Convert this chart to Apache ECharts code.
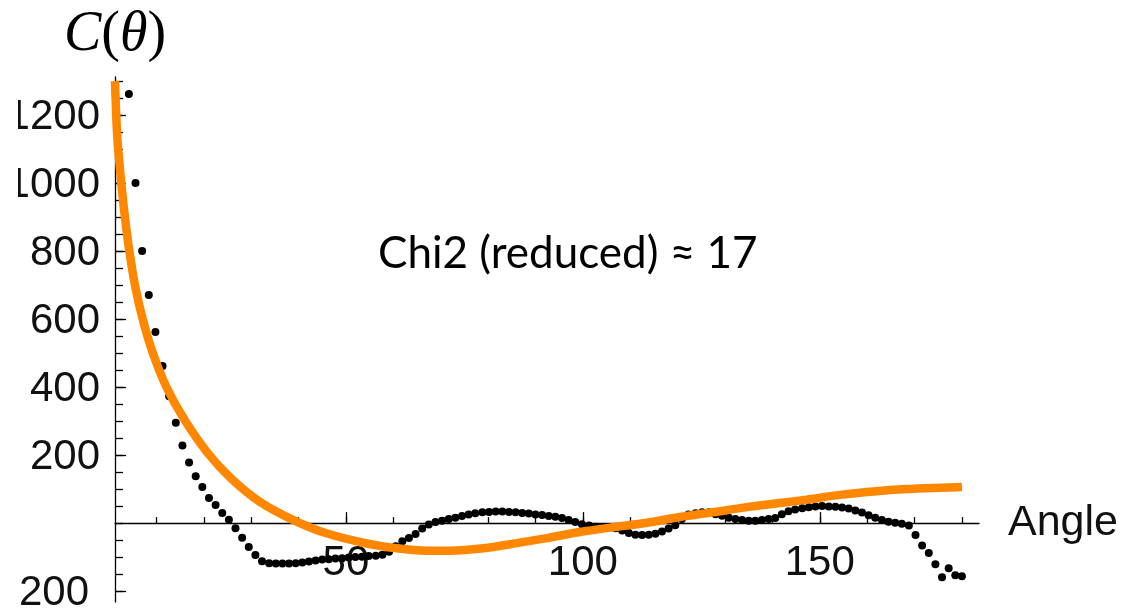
<!DOCTYPE html>
<html>
<head>
<meta charset="utf-8">
<script src="https://cdn.jsdelivr.net/npm/echarts@6/dist/echarts.min.js"></script>
<style>
  html, body { margin: 0; padding: 0; background: #fff; }
  #chart { position: absolute; left: 0; top: 0; width: 1125px; height: 614px; clip-path: inset(0 0 0 18px); }
</style>
</head>
<body>
<div id="chart"></div>
<script>
// ---- data ----
const dotAngles = [4.2, 5.6, 7.0, 8.4, 9.8, 11.3, 12.7, 14.1, 15.5, 16.9,
  18.3, 19.7, 21.1, 22.5, 23.9, 25.3, 26.7, 28.1, 29.5, 30.9,
  32.3, 33.8, 35.2, 36.6, 38.0, 39.4, 40.8, 42.2, 43.6, 45.0,
  46.4, 47.8, 49.2, 50.6, 52.0, 53.4, 54.8, 56.3, 57.7, 59.1,
  60.5, 61.9, 63.3, 64.7, 66.1, 67.5, 68.9, 70.3, 71.7, 73.1,
  74.5, 75.9, 77.3, 78.8, 80.2, 81.6, 83.0, 84.4, 85.8, 87.2,
  88.6, 90.0, 91.4, 92.8, 94.2, 95.6, 97.0, 98.4, 99.8, 101.3,
  102.7, 104.1, 105.5, 106.9, 108.3, 109.7, 111.1, 112.5, 113.9, 115.3,
  116.7, 118.1, 119.5, 120.9, 122.3, 123.8, 125.2, 126.6, 128.0, 129.4,
  130.8, 132.2, 133.6, 135.0, 136.4, 137.8, 139.2, 140.6, 142.0, 143.4,
  144.8, 146.3, 147.7, 149.1, 150.5, 151.9, 153.3, 154.7, 156.1, 157.5,
  158.9, 160.3, 161.7, 163.1, 164.5, 165.9, 167.3, 168.8, 170.2, 171.6,
  173.0, 174.4, 175.8, 177.2, 178.6, 180.0];
const dotValues = [1262, 1000, 800, 671, 562, 462, 373, 295, 228, 178,
  138, 106, 74, 53, 30, 10, -15, -43, -70, -94,
  -112, -118, -119, -119, -119, -118, -116, -113, -110, -107,
  -106, -104, -103, -101, -100, -99, -97, -96, -93, -84,
  -68, -53, -44, -32, -16, -4, 3, 7, 12, 16,
  21, 25, 29, 32, 33, 34, 34, 33, 32, 30,
  28, 25, 24, 21, 19, 15, 9, 3, -3, -7,
  -11, -12, -12, -15, -22, -29, -34, -35, -34, -31,
  -25, -16, -6, 12, 25, 29, 32, 32, 26, 22,
  16, 12, 9, 7, 7, 9, 12, 15, 26, 35,
  40, 44, 47, 49, 50, 49, 48, 46, 43, 37,
  31, 23, 16, 9, 4, 1, -2, -7, -35, -66,
  -88, -121, -159, -133, -153, -156];
const fitAngles = [1.27, 1.75, 2.60, 3.44, 4.37, 5.55, 7.17, 9.28, 12.09, 15.97,
  20.89, 25.81, 31.9, 38.9, 45.9, 54.4, 60.7, 67.0, 72.0, 79.0,
  86.0, 92.4, 99.4, 106.4, 113.5, 120.5, 127.5, 134.6, 141.6, 147.2,
  154.3, 161.3, 168.3, 175.4, 180.0];
const fitValues = [1300, 1136, 999, 891, 793, 695, 597, 499, 401, 303,
  205, 131, 62, 9, -30, -60, -74, -81, -81, -74,
  -59, -44, -26, -12, 1, 18, 32, 47, 59, 69,
  83, 93, 100, 104, 106];
const xMinorTicks = [10, 20, 30, 40, 50, 60, 70, 80, 90, 100, 110, 120, 130, 140, 150, 160, 170, 180];
const xMajorTicks = [50, 100, 150];
const xTickLabels = [50, 100, 150];
const yMinorTicks = [-200, -150, -100, -50, 0, 50, 100, 150, 200, 250, 300, 350, 400, 450, 500, 550,
  600, 650, 700, 750, 800, 850, 900, 950, 1000, 1050, 1100, 1150, 1200, 1250, 1300];
const yMajorTicks = [-200, 200, 400, 600, 800, 1000, 1200];
const yTickLabels = [-200, 200, 400, 600, 800, 1000, 1200];
const annotation = 'Chi2 (reduced) \u2248 17';

// ---- chart ----
const X_MIN = 1.27, X_MAX = 183.6, Y_MIN = -232, Y_MAX = 1312;
const labelFont = { fontFamily: 'Liberation Sans', fontSize: 42, color: '#111' };
const axisLineStyle = { color: '#000', width: 1.3 };

const chart = echarts.init(document.getElementById('chart'), null, { renderer: 'canvas' });
chart.setOption({
  animation: false,
  backgroundColor: '#fff',
  grid: { left: 115, top: 77, width: 864, height: 525, containLabel: false, outerBoundsMode: 'none' },
  xAxis: [
    {
      type: 'value', min: X_MIN, max: X_MAX, position: 'bottom',
      axisLine: { show: true, onZero: true, lineStyle: axisLineStyle },
      axisTick: { show: true, inside: true, length: 6, customValues: xMinorTicks, lineStyle: axisLineStyle },
      axisLabel: { show: true, margin: -60, customValues: xTickLabels, ...labelFont },
      splitLine: { show: false },
      name: 'Angle', nameLocation: 'end', nameGap: 29,
      nameTextStyle: { fontFamily: 'Liberation Sans', fontSize: 43, color: '#111' }
    },
    {
      type: 'value', min: X_MIN, max: X_MAX, position: 'bottom',
      axisLine: { show: false, onZero: true },
      axisTick: { show: true, inside: true, length: 11, customValues: xMajorTicks, lineStyle: axisLineStyle },
      axisLabel: { show: false },
      splitLine: { show: false }
    }
  ],
  yAxis: [
    {
      type: 'value', min: Y_MIN, max: Y_MAX, position: 'left',
      axisLine: { show: true, onZero: false, lineStyle: axisLineStyle },
      axisTick: { show: true, inside: true, length: 8, customValues: yMinorTicks, lineStyle: axisLineStyle },
      axisLabel: {
        show: true, margin: 15, customValues: yTickLabels, ...labelFont,
        padding: [4, 0, 0, 0],
        formatter: v => (v < 0 ? '{neg|' + v + '}' : String(v)),
        rich: { neg: { fontFamily: 'Liberation Sans', fontSize: 42, color: '#111', padding: [0, 11, 0, 0] } }
      },
      splitLine: { show: false },
      name: '{i|C}{r|(}{i|\u03b8}{r|)}', nameLocation: 'end', nameGap: 14,
      nameTextStyle: {
        rich: {
          i: { fontFamily: 'Liberation Serif', fontStyle: 'italic', fontSize: 56, color: '#000' },
          r: { fontFamily: 'Liberation Serif', fontSize: 56, color: '#000' }
        }
      }
    },
    {
      type: 'value', min: Y_MIN, max: Y_MAX, position: 'left',
      axisLine: { show: false, onZero: false },
      axisTick: { show: true, inside: true, length: 11, customValues: yMajorTicks, lineStyle: axisLineStyle },
      axisLabel: { show: false },
      splitLine: { show: false }
    }
  ],
  series: [
    {
      name: 'data', type: 'scatter', xAxisIndex: 0, yAxisIndex: 0,
      symbol: 'circle', symbolSize: 8,
      itemStyle: { color: '#000', opacity: 1 },
      data: dotAngles.map((a, i) => [a, dotValues[i]]),
      z: 2
    },
    {
      name: 'fit', type: 'line', xAxisIndex: 0, yAxisIndex: 0,
      smooth: 0.3, showSymbol: false, symbol: 'none',
      lineStyle: { color: '#FF8700', width: 8.5, cap: 'butt' },
      data: fitAngles.map((a, i) => [a, fitValues[i]]),
      z: 3
    }
  ],
  graphic: [
    {
      type: 'text', left: 378, top: 232,
      style: { text: annotation, font: '44px Lato', fill: '#000' }
    }
  ]
});
</script>
</body>
</html>
